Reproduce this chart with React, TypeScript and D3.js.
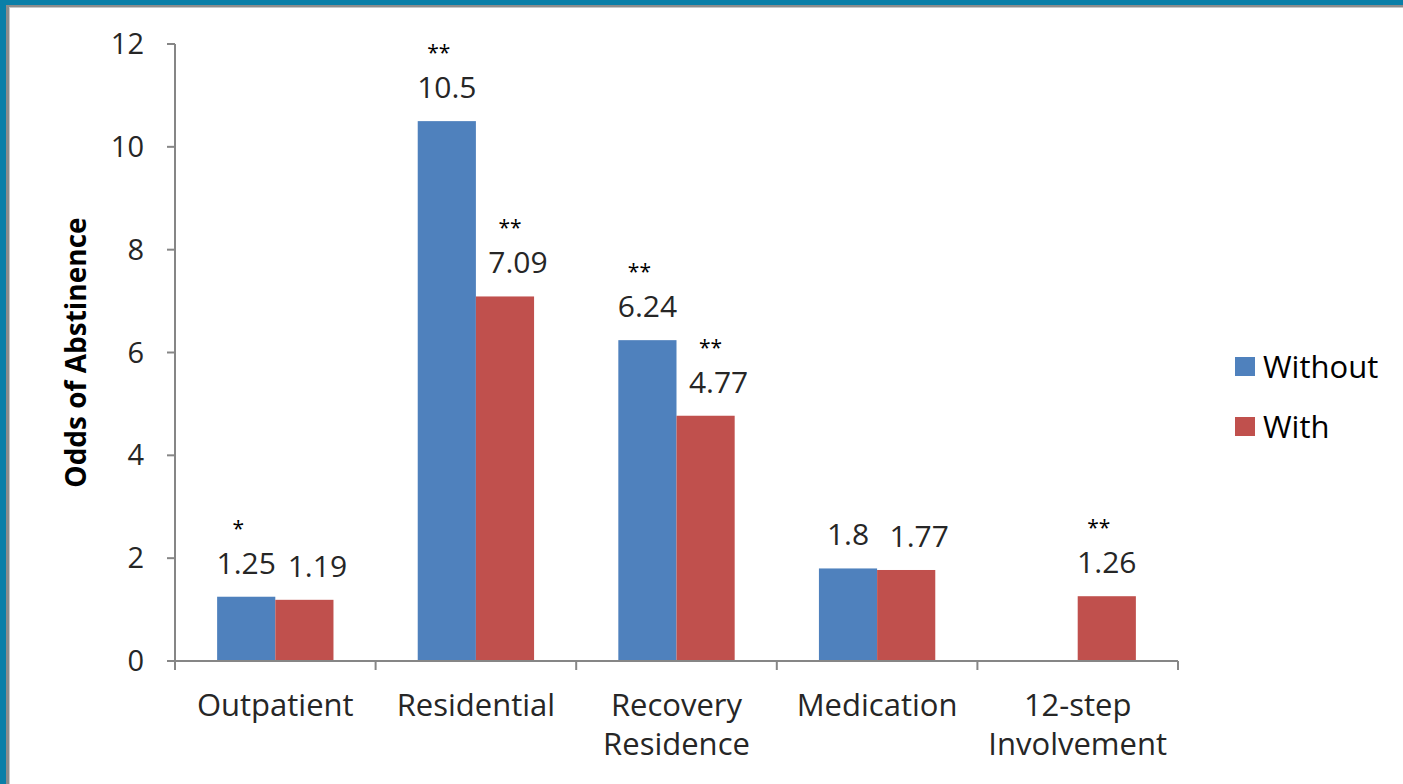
import React from 'react';
import * as d3 from 'd3';

const categories = ['Outpatient', 'Residential', 'Recovery Residence', 'Medication', '12-step Involvement'];
const categoryLines = [['Outpatient'], ['Residential'], ['Recovery', 'Residence'], ['Medication'], ['12-step', 'Involvement']];
const seriesNames = ['Without', 'With'];
const withoutValues: (number | null)[] = [1.25, 10.5, 6.24, 1.8, null];
const withValues: (number | null)[] = [1.19, 7.09, 4.77, 1.77, 1.26];
const withoutStars = ['*', '**', '**', '', ''];
const withStars = ['', '**', '**', '', '**'];
const yTicks = [0, 2, 4, 6, 8, 10, 12];
const colors = ['#4f81bd', '#c0504d'];

const W = 1403;
const H = 784;
const FONT = '"Open Sans", sans-serif';

const App: React.FC = () => {
  const margin = { left: 175, right: 225, top: 44, bottom: 123 };
  const x = d3.scaleBand<string>().domain(categories).range([margin.left, W - margin.right]);
  const bar = x.bandwidth() * 0.29;
  const y = d3.scaleLinear().domain([0, 12]).range([H - margin.bottom, margin.top]);
  const series = [withoutValues, withValues];
  const stars = [withoutStars, withStars];
  const axisColor = '#868686';

  return (
    <div style={{ position: 'absolute', left: 0, top: 0 }}>
      <svg width={W} height={H} style={{ display: 'block', fontFamily: FONT }}>
        <rect x={0} y={0} width={W} height={H} fill="#fff" />
        {/* frame */}
        <rect x={0} y={0} width={W} height={5} fill="#0a7fa8" />
        <rect x={0} y={0} width={6} height={H} fill="#0a7fa8" />
        <rect x={6} y={5} width={W - 6} height={2} fill="#8c8c8c" />
        <rect x={6} y={5} width={3} height={H - 5} fill="#8c8c8c" />
        <rect x={9} y={7} width={W - 9} height={1} fill="#c8c8c8" />
        <rect x={9} y={7} width={1} height={H - 7} fill="#c8c8c8" />

        {/* bars */}
        {series.map((vals, si) =>
          vals.map((v, i) => {
            if (v == null) return null;
            const cx = x(categories[i])! + x.bandwidth() / 2;
            const bx = cx - bar + si * bar;
            return <rect key={`${si}-${i}`} x={bx} y={y(v)} width={bar} height={y(0) - y(v)} fill={colors[si]} />;
          })
        )}

        {/* labels */}
        {series.map((vals, si) =>
          vals.map((v, i) => {
            if (v == null) return null;
            const cx = x(categories[i])! + x.bandwidth() / 2;
            let lx = cx - bar / 2 + si * bar;
            const other = series[1 - si][i];
            if (si === 1 && other != null) lx += 13;
            const ly = y(v) - 23;
            return (
              <g key={`l-${si}-${i}`}>
                <text x={lx} y={ly} textAnchor="middle" fontSize={30} fill="#262626">
                  {String(v)}
                </text>
                {stars[si][i] && (
                  <text x={lx - 8} y={ly - 38} textAnchor="middle" fontSize={21} fill="#000">
                    {stars[si][i]}
                  </text>
                )}
              </g>
            );
          })
        )}

        {/* y axis */}
        <line x1={margin.left} x2={margin.left} y1={y(12)} y2={y(0)} stroke={axisColor} strokeWidth={2} />
        {yTicks.map((t) => (
          <g key={t}>
            <line x1={margin.left - 8} x2={margin.left} y1={y(t)} y2={y(t)} stroke={axisColor} strokeWidth={2} />
            <text x={margin.left - 31} y={y(t)} dy="0.35em" textAnchor="end" fontSize={29} fill="#262626">
              {t}
            </text>
          </g>
        ))}

        {/* x axis */}
        <line x1={margin.left - 8} x2={W - margin.right} y1={y(0)} y2={y(0)} stroke={axisColor} strokeWidth={2} />
        {[...categories.map((c) => x(c)!), W - margin.right].map((px, i) => (
          <line key={i} x1={px} x2={px} y1={y(0)} y2={y(0) + 9} stroke={axisColor} strokeWidth={2} />
        ))}
        {categoryLines.map((lines, i) => {
          const cx = x(categories[i])! + x.bandwidth() / 2;
          return (
            <text key={i} x={cx} y={y(0) + 55} textAnchor="middle" fontSize={31} fill="#262626">
              {lines.map((ln, j) => (
                <tspan key={j} x={cx} dy={j === 0 ? 0 : 39}>
                  {ln}
                </tspan>
              ))}
            </text>
          );
        })}

        {/* y title */}
        <text
          transform={`translate(86,${(y(0) + y(12)) / 2}) rotate(-90)`}
          textAnchor="middle"
          fontSize={28}
          fontWeight="bold"
          fill="#000"
        >
          Odds of Abstinence
        </text>

        {/* legend */}
        {seriesNames.map((s, i) => (
          <g key={s} transform={`translate(1235,${357 + i * 60})`}>
            <rect width={20} height={19} fill={colors[i]} />
            <text x={28} y={10} dy="0.35em" fontSize={31} fill="#000">
              {s}
            </text>
          </g>
        ))}
      </svg>
    </div>
  );
};

export default App;
